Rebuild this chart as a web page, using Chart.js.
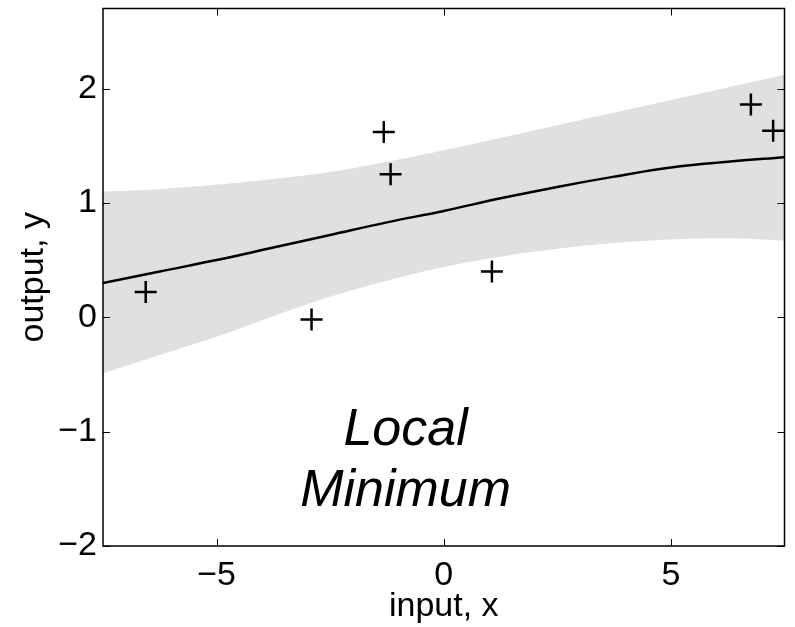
<!DOCTYPE html>
<html>
<head>
<meta charset="utf-8">
<script src="https://cdn.jsdelivr.net/npm/chart.js@4/dist/chart.umd.min.js"></script>
<style>
  html, body { margin: 0; padding: 0; background: #fff; overflow: hidden; }
  #wrap { position: relative; width: 795px; height: 627px; overflow: hidden; }
  /* the scales keep a little room around the outer tick labels, so nudge the canvas up */
  #gp { position: absolute; left: 0; top: -5px; }
</style>
</head>
<body>
<div id="wrap"><canvas id="gp" width="798" height="632"></canvas></div>
<script>
// sample locations along the input axis
const xs = [-7.5, -6.25, -5, -3.75, -2.5, -1.25, 0, 1.25, 2.5, 3.75, 5, 6.25, 7.5];
// posterior mean and the upper / lower edges of the shaded band
const meanY  = [0.30, 0.40, 0.50, 0.61, 0.72, 0.83, 0.93, 1.04, 1.14, 1.23, 1.31, 1.36, 1.40];
const upperY = [1.10, 1.12, 1.16, 1.21, 1.27, 1.36, 1.46, 1.57, 1.68, 1.79, 1.90, 2.01, 2.12];
const lowerY = [-0.49, -0.33, -0.17, 0.01, 0.18, 0.32, 0.44, 0.53, 0.60, 0.65, 0.68, 0.69, 0.67];

// observations
const obsX = [-6.56, -2.91, -1.32, -1.17, 1.06, 6.76, 7.25];
const obsY = [0.22, -0.02, 1.62, 1.25, 0.40, 1.86, 1.63];

const xTicks = [-5, 0, 5];
const yTicks = [-2, -1, 0, 1, 2];

const noteLines = ['Local', 'Minimum'];
const notePos = { x: -0.84, y: [-1.12, -1.65] };

const pts = (a, b) => a.map((v, i) => ({ x: v, y: b[i] }));
const minus = v => (v < 0 ? '\u2212' + Math.abs(v) : String(v));

// box around the axes with small inward ticks on every side, plus the note
const frame = {
  id: 'frame',
  afterDatasetsDraw(chart) {
    const { ctx, chartArea: a, scales: { x, y } } = chart;
    const len = 7;
    ctx.save();
    ctx.strokeStyle = '#000';
    ctx.lineWidth = 1.5;
    ctx.strokeRect(a.left, a.top, a.right - a.left, a.bottom - a.top);
    ctx.lineWidth = 1;
    ctx.beginPath();
    xTicks.forEach(v => {
      const px = Math.round(x.getPixelForValue(v)) + 0.5;
      ctx.moveTo(px, a.bottom); ctx.lineTo(px, a.bottom - len);
      ctx.moveTo(px, a.top); ctx.lineTo(px, a.top + len);
    });
    yTicks.forEach(v => {
      const py = Math.round(y.getPixelForValue(v)) + 0.5;
      ctx.moveTo(a.left, py); ctx.lineTo(a.left + len, py);
      ctx.moveTo(a.right, py); ctx.lineTo(a.right - len, py);
    });
    ctx.stroke();

    ctx.fillStyle = '#000';
    ctx.font = 'italic 52px "Liberation Sans", Arial, sans-serif';
    ctx.textAlign = 'center';
    ctx.textBaseline = 'alphabetic';
    noteLines.forEach((t, i) => {
      ctx.fillText(t, x.getPixelForValue(notePos.x), y.getPixelForValue(notePos.y[i]));
    });
    ctx.restore();
  }
};

const tickFont = { family: '"Liberation Sans", Arial, sans-serif', size: 34 };
const titleFont = { family: '"Liberation Sans", Arial, sans-serif', size: 34 };

new Chart(document.getElementById('gp'), {
  type: 'line',
  data: {
    datasets: [
      {
        data: pts(xs, upperY),
        borderWidth: 0,
        pointRadius: 0,
        backgroundColor: '#e0e0e0',
        fill: '+1',
        tension: 0.4,
        order: 3
      },
      {
        data: pts(xs, lowerY),
        borderWidth: 0,
        pointRadius: 0,
        fill: false,
        tension: 0.4,
        order: 3
      },
      {
        data: pts(xs, meanY),
        borderColor: '#000',
        borderWidth: 2.5,
        pointRadius: 0,
        fill: false,
        tension: 0.4,
        order: 2
      },
      {
        data: pts(obsX, obsY),
        showLine: false,
        pointStyle: 'cross',
        pointRadius: 11,
        borderColor: '#000',
        borderWidth: 2.5,
        order: 1
      }
    ]
  },
  options: {
    responsive: false,
    animation: false,
    events: [],
    layout: { padding: { top: 4, right: 8, left: 0, bottom: 0 } },
    plugins: { legend: { display: false }, tooltip: { enabled: false } },
    scales: {
      x: {
        type: 'linear',
        min: -7.5,
        max: 7.5,
        grid: { display: false, drawTicks: false },
        border: { display: false },
        afterBuildTicks: s => { s.ticks = xTicks.map(v => ({ value: v })); },
        afterFit: s => { s.height = 81; s.paddingLeft = 0; s.paddingRight = 0; },
        ticks: { color: '#000', font: tickFont, padding: 9, maxRotation: 0, callback: minus },
        title: { display: true, text: 'input, x', color: '#000', font: titleFont, padding: { top: 0, bottom: 0 } }
      },
      y: {
        min: -2,
        max: 2.7,
        grid: { display: false, drawTicks: false },
        border: { display: false },
        afterBuildTicks: s => { s.ticks = yTicks.map(v => ({ value: v })); },
        afterFit: s => { s.width = 103; s.paddingTop = 0; s.paddingBottom = 0; },
        ticks: { color: '#000', font: tickFont, padding: 6, callback: minus },
        title: { display: true, text: 'output, y', color: '#000', font: titleFont, padding: { top: 13, bottom: 0 } }
      }
    }
  },
  plugins: [frame]
});
</script>
</body>
</html>
